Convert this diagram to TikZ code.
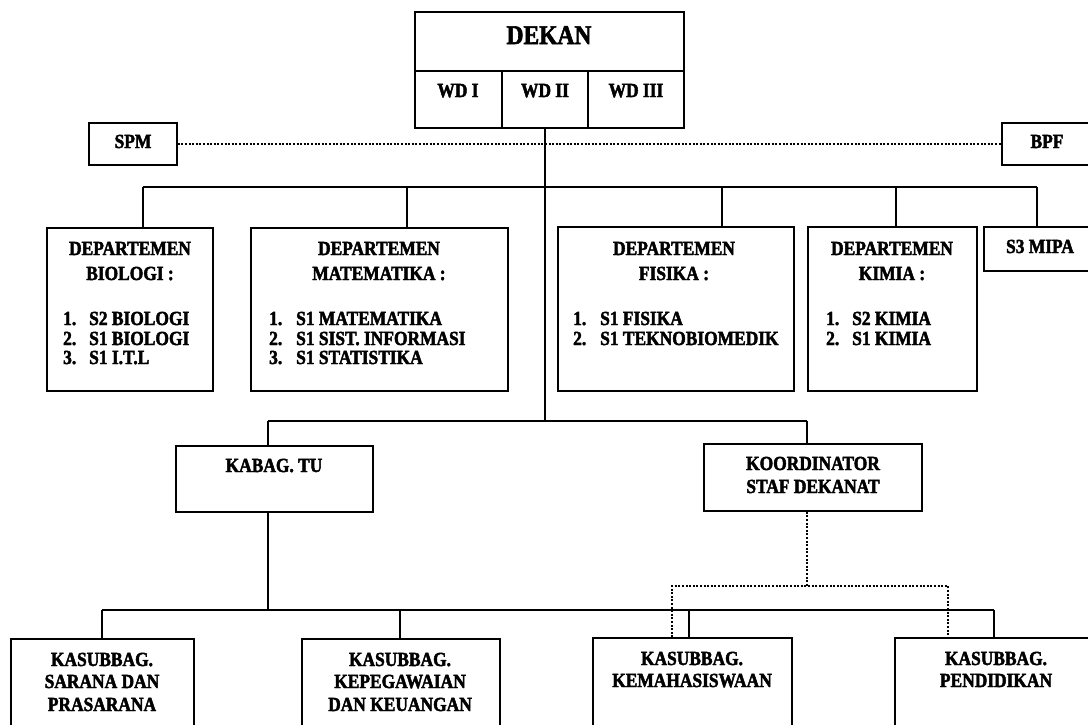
\documentclass[tikz,border=0pt]{standalone}
\usepackage{fontspec}
\setmainfont{Liberation Serif}[FakeStretch=0.87, BoldFeatures={FakeBold=2.2}]
\newcommand\obx[5]{\node[obox, minimum width={(#4-#2)*1pt}, minimum height={(#5-#3)*1pt}] (#1) at ({(#2+#4)/2},{(#3+#5)/2}) {};}
\tikzset{
  obox/.style={draw, line width=1.4pt, inner sep=0pt, rectangle},
  conn/.style={line width=1.3pt},
  dotline/.style={line width=2.4pt, dash pattern=on 2pt off 1.6pt},
  tx/.style={font=\fontsize{20}{22}\selectfont\bfseries, inner sep=0pt, anchor=base},
  tl/.style={tx, anchor=base west},
}
\begin{document}
\begin{tikzpicture}[x=1pt,y=-1pt]
\useasboundingbox (0,0) rectangle (1088,724);
\clip (0,0) rectangle (1088,724);
\fill[white] (0,0) rectangle (1088,724);
% boxes
\obx{dekan}{415}{12}{684}{71}
\obx{wd1}{415}{71}{502}{128}
\obx{wd2}{502}{71}{588}{128}
\obx{wd3}{588}{71}{684}{128}
\obx{spm}{89}{123}{177}{165}
\obx{bpf}{1002}{123}{1094}{165}
\obx{bio}{47}{228}{213}{391}
\obx{mat}{251}{228}{508}{391}
\obx{fis}{558}{227}{794}{391}
\obx{kim}{808}{227}{977}{391}
\obx{s3}{984}{227}{1096}{271}
\obx{kabag}{176}{446}{373}{512}
\obx{koor}{704}{444}{922}{511}
\obx{sarana}{11}{639}{194}{760}
\obx{kepeg}{302}{639}{500}{760}
\obx{kemah}{593}{638}{792}{760}
\obx{pend}{895}{638}{1097}{760}
% texts
\node[tx, font=\fontsize{27}{30}\selectfont\bfseries] (tdekan) at (549,44) {DEKAN};
\node[tx] (twd1) at (458,97) {WD I};
\node[tx] (twd2) at (545,97) {WD II};
\node[tx] (twd3) at (636,97) {WD III};
\node[tx] (tspm) at (133,148) {SPM};
\node[tx] (tbpf) at (1047,148) {BPF};
\node[tx] (ts3) at (1040,253) {S3 MIPA};
% biologi
\node[tx] (tb1) at (130,255) {DEPARTEMEN};
\node[tx] (tb2) at (130,280) {BIOLOGI :};
\node[tl] (nb1) at (63,325) {1.}; \node[tl] (ib1) at (89,325) {S2 BIOLOGI};
\node[tl] (nb2) at (63,345) {2.}; \node[tl] (ib2) at (89,345) {S1 BIOLOGI};
\node[tl] (nb3) at (63,364) {3.}; \node[tl] (ib3) at (89,364) {S1 I.T.L};
% matematika
\node[tx] (tm1) at (379,255) {DEPARTEMEN};
\node[tx] (tm2) at (379,280) {MATEMATIKA :};
\node[tl] (nm1) at (269,325) {1.}; \node[tl] (im1) at (296,325) {S1 MATEMATIKA};
\node[tl] (nm2) at (269,345) {2.}; \node[tl] (im2) at (296,345) {S1 SIST. INFORMASI};
\node[tl] (nm3) at (269,364) {3.}; \node[tl] (im3) at (296,364) {S1 STATISTIKA};
% fisika
\node[tx] (tf1) at (674,255) {DEPARTEMEN};
\node[tx] (tf2) at (674,280) {FISIKA :};
\node[tl] (nf1) at (573,325) {1.}; \node[tl] (if1) at (600,325) {S1 FISIKA};
\node[tl] (nf2) at (573,345) {2.}; \node[tl] (if2) at (600,345) {S1 TEKNOBIOMEDIK};
% kimia
\node[tx] (tk1) at (892,255) {DEPARTEMEN};
\node[tx] (tk2) at (892,280) {KIMIA :};
\node[tl] (nk1) at (826,325) {1.}; \node[tl] (ik1) at (852,325) {S2 KIMIA};
\node[tl] (nk2) at (826,345) {2.}; \node[tl] (ik2) at (852,345) {S1 KIMIA};
% kabag / koordinator
\node[tx] (tkabag) at (274,472) {KABAG. TU};
\node[tx] (tko1) at (813,470) {KOORDINATOR};
\node[tx] (tko2) at (813,493) {STAF DEKANAT};
% bottom
\node[tx] (ts1) at (102,666) {KASUBBAG.};
\node[tx] (ts2) at (102,688) {SARANA DAN};
\node[tx] (ts3x) at (102,711) {PRASARANA};
\node[tx] (tp1) at (400,666) {KASUBBAG.};
\node[tx] (tp2) at (400,688) {KEPEGAWAIAN};
\node[tx] (tp3) at (400,711) {DAN KEUANGAN};
\node[tx] (tkm1) at (692,665) {KASUBBAG.};
\node[tx] (tkm2) at (692,687) {KEMAHASISWAAN};
\node[tx] (tpd1) at (996,665) {KASUBBAG.};
\node[tx] (tpd2) at (996,687) {PENDIDIKAN};
% connector coordinates
\coordinate (cb1) at (143,187);
\coordinate (cb2) at (407,187);
\coordinate (cb3) at (722,187);
\coordinate (cb4) at (896,187);
\coordinate (cb5) at (1037,187);
\coordinate (jm) at (545,421);
\coordinate (ck1) at (268,421);
\coordinate (ck2) at (807,421);
\coordinate (cs0) at (268,610);
\coordinate (cs1) at (102,610);
\coordinate (cs2) at (400,610);
\coordinate (cs3) at (689,610);
\coordinate (cs4) at (994,610);
\coordinate (cd0) at (807,586);
\coordinate (cd1) at (672,586);
\coordinate (cd2) at (948,586);
% dotted
\draw[dotline] (spm.east) -- (bpf.west);
\draw[dotline] (koor.south -| cd0) -- (cd0);
\draw[dotline] (cd1 |- kemah.north) -- (cd1) -- (cd2) -- (cd2 |- pend.north);
% solid
\draw[conn] (wd2.south) -- (jm);
\draw[conn] (cb1) -- (cb5);
\draw[conn] (cb1) -- (cb1 |- bio.north);
\draw[conn] (cb2) -- (cb2 |- mat.north);
\draw[conn] (cb3) -- (cb3 |- fis.north);
\draw[conn] (cb4) -- (cb4 |- kim.north);
\draw[conn] (cb5) -- (cb5 |- s3.north);
\draw[conn] (ck1) -- (ck2);
\draw[conn] (ck1) -- (ck1 |- kabag.north);
\draw[conn] (ck2) -- (ck2 |- koor.north);
\draw[conn] (kabag.south -| cs0) -- (cs0);
\draw[conn] (cs1) -- (cs4);
\draw[conn] (cs1) -- (cs1 |- sarana.north);
\draw[conn] (cs2) -- (cs2 |- kepeg.north);
\draw[conn] (cs3) -- (cs3 |- kemah.north);
\draw[conn] (cs4) -- (cs4 |- pend.north);
\end{tikzpicture}
\end{document}
